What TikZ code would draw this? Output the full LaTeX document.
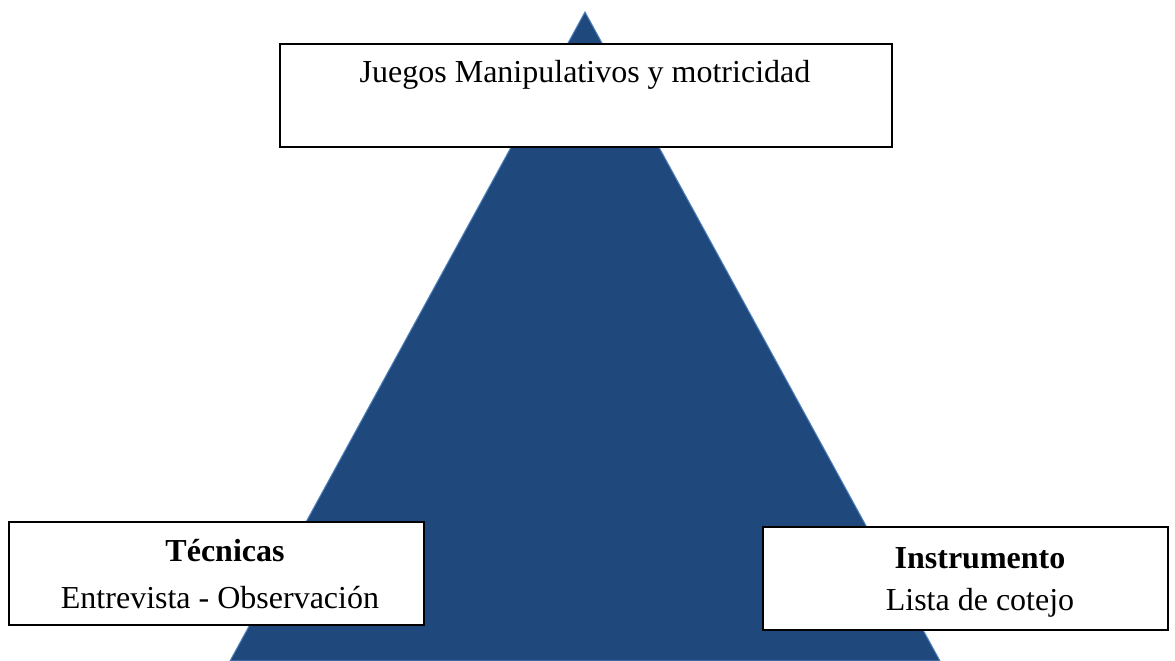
\documentclass[tikz,border=0pt]{standalone}
\usepackage{fontspec}
\setmainfont{Liberation Serif}
\definecolor{trifill}{HTML}{1F497D}
\definecolor{triedge}{HTML}{4F81BD}
\tikzset{
  box/.style={draw=black, line width=1.2pt, fill=white, rectangle, inner sep=0pt},
  lbl/.style={anchor=base, inner sep=0pt, font=\fontsize{32}{38}\selectfont},
  blbl/.style={lbl, font=\fontsize{32}{38}\selectfont\bfseries}
}
\begin{document}
\begin{tikzpicture}[x=1pt,y=1pt]
\useasboundingbox (0,0) rectangle (1175,661);
% triangle
\coordinate (apex) at (585,649);
\coordinate (bl) at (230,0);
\coordinate (br) at (940,0);
\fill[trifill, draw=triedge, line width=1pt] (apex) -- (br) -- (bl) -- cycle;
% top box
\node[box, minimum width=612pt, minimum height=103pt] (top) at (586,565.5) {};
\node[lbl] (toptxt) at (585,578) {Juegos Manipulativos y motricidad};
% left box
\node[box, minimum width=415pt, minimum height=103pt] (left) at (216.5,87.5) {};
\node[blbl] (lt1) at (225,99) {Técnicas};
\node[lbl] (lt2) at (220,52) {Entrevista - Observación};
% right box
\node[box, minimum width=405pt, minimum height=103pt] (right) at (965.5,82.5) {};
\node[blbl] (rt1) at (980,92) {Instrumento};
\node[lbl] (rt2) at (980,50) {Lista de cotejo};
\end{tikzpicture}
\end{document}
